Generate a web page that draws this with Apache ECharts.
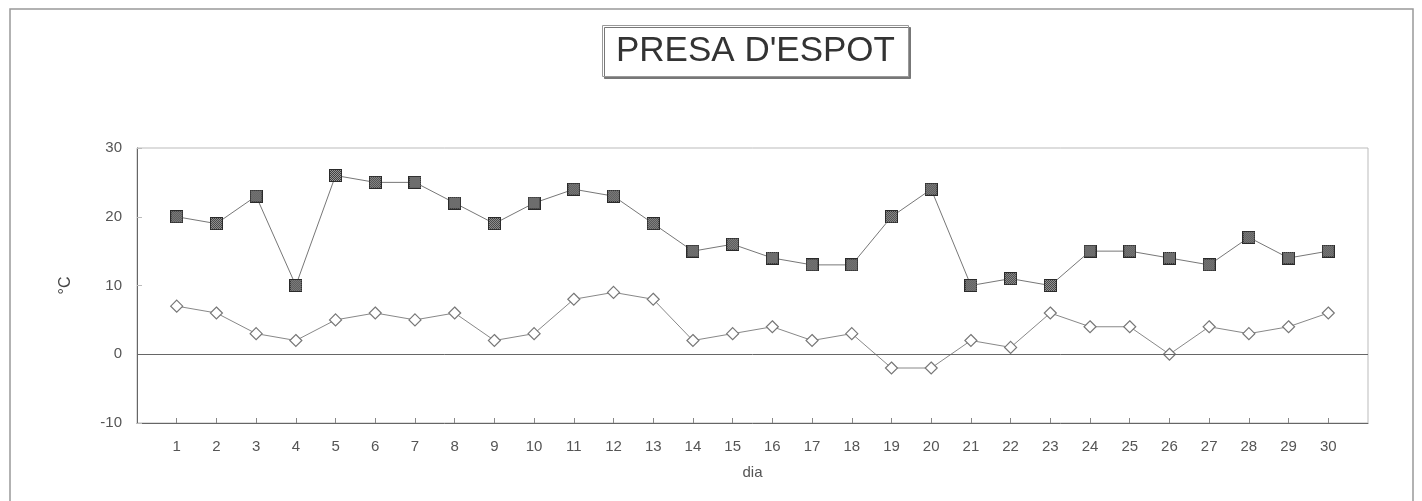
<!DOCTYPE html>
<html>
<head>
<meta charset="utf-8">
<script src="https://cdn.jsdelivr.net/npm/echarts@6/dist/echarts.min.js"></script>
<style>
html,body{margin:0;padding:0;background:#fff;}
#chart{width:1422px;height:501px;}
</style>
</head>
<body>
<div id="chart"></div>
<script>
var days = [1,2,3,4,5,6,7,8,9,10,11,12,13,14,15,16,17,18,19,20,21,22,23,24,25,26,27,28,29,30];
var tmax = [20,19,23,10,26,25,25,22,19,22,24,23,19,15,16,14,13,13,20,24,10,11,10,15,15,14,13,17,14,15];
var tmin = [7,6,3,2,5,6,5,6,2,3,8,9,8,2,3,4,2,3,-2,-2,2,1,6,4,4,0,4,3,4,6];
var yTicks = [-10,0,10,20,30];
var titleText = "PRESA D'ESPOT";
var xName = 'dia';
var yName = '°C';

function pair(xs, ys){ return xs.map(function(x,i){ return [x, ys[i]]; }); }

// checkered square marker
function squareMarker(){
  var s = 13, c = document.createElement('canvas');
  c.width = s; c.height = s;
  var g = c.getContext('2d');
  g.fillStyle = '#3a3a3a'; g.fillRect(0,0,s,s);
  for (var i=1;i<s-1;i++){ for (var j=1;j<s-1;j++){
    if ((i+j)%2===0){ g.fillStyle='#a0a0a0'; g.fillRect(i,j,1,1); }
  }}
  g.strokeStyle='#2a2a2a'; g.lineWidth=1; g.strokeRect(0.5,0.5,s-1,s-1);
  return 'image://' + c.toDataURL();
}

var chart = echarts.init(document.getElementById('chart'));
var font = 'Liberation Sans, Arial, sans-serif';
chart.setOption({
  animation: false,
  backgroundColor: '#fff',
  title: {
    text: titleText,
    left: 602, top: 25,
    padding: [6, 14],
    borderColor: '#999', borderWidth: 1,
    backgroundColor: '#fff',
    shadowColor: '#777', shadowOffsetX: 2, shadowOffsetY: 2, shadowBlur: 0,
    textStyle: { fontFamily: font, fontSize: 35, fontWeight: 'normal', color: '#333', lineHeight: 40 }
  },
  graphic: [{
    type: 'rect', silent: true, z: -1,
    shape: { x: 10, y: 9, width: 1403, height: 500 },
    style: { fill: 'none', stroke: '#999', lineWidth: 1.5 }
  }],
  grid: { left: 137, top: 148, right: 54, bottom: 78, show: true, borderColor: '#bbb', borderWidth: 1 },
  xAxis: {
    type: 'value', min: 0, max: 31, interval: 1,
    name: xName, nameLocation: 'middle', nameGap: 42,
    nameTextStyle: { fontFamily: font, fontSize: 15, color: '#555' },
    axisLine: { show: true, onZero: false, lineStyle: { color: '#666', width: 1 } },
    axisTick: { show: true, inside: true, length: 5, customValues: days, lineStyle: { color: '#888' } },
    axisLabel: { customValues: days, margin: 16, fontFamily: font, fontSize: 15, color: '#555' },
    splitLine: { show: false }
  },
  yAxis: {
    type: 'value', min: -10, max: 30, interval: 10,
    name: yName, nameLocation: 'middle', nameGap: 63,
    nameTextStyle: { fontFamily: font, fontSize: 16, color: '#444' },
    axisLine: { show: true, lineStyle: { color: '#666', width: 1 } },
    axisTick: { show: true, inside: true, length: 5, customValues: yTicks, lineStyle: { color: '#bbb' } },
    axisLabel: { customValues: yTicks, margin: 15, fontFamily: font, fontSize: 15, color: '#555' },
    splitLine: { show: false }
  },
  series: [{
    name: 'max', type: 'line', data: pair(days, tmax),
    symbol: squareMarker(), symbolSize: 13,
    lineStyle: { color: '#777', width: 1 },
    itemStyle: { color: '#444' },
    z: 3,
    markLine: {
      silent: true, symbol: 'none', label: { show: false },
      lineStyle: { color: '#666', width: 1, type: 'solid' },
      data: [{ yAxis: 0 }]
    }
  }, {
    name: 'min', type: 'line', data: pair(days, tmin),
    symbol: 'diamond', symbolSize: 12, showAllSymbol: true,
    lineStyle: { color: '#888', width: 1 },
    itemStyle: { color: '#fff', borderColor: '#777', borderWidth: 1.2 },
    z: 3
  }]
});
</script>
</body>
</html>
